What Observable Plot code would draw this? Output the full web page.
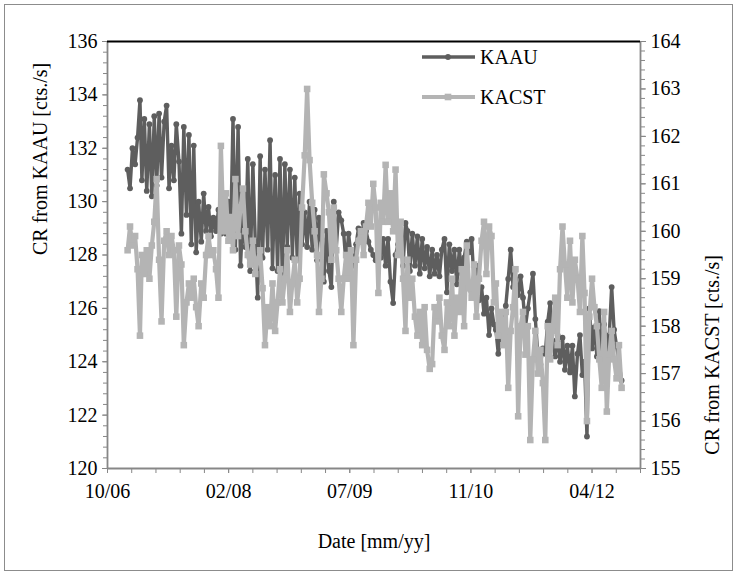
<!DOCTYPE html>
<html><head><meta charset="utf-8">
<script src="https://cdn.jsdelivr.net/npm/d3@7"></script>
<script src="https://cdn.jsdelivr.net/npm/@observablehq/plot@0.6"></script>
<style>
body{margin:0;background:#fff;}
#wrap{position:relative;width:738px;height:575px;overflow:hidden;}
#frame{position:absolute;left:4px;top:4px;width:729px;height:567px;border:1px solid #8c8c8c;box-sizing:border-box;pointer-events:none;}
#chart{position:absolute;left:0;top:0;}
#legend{position:absolute;left:0;top:0;}
#legend text{font-family:"Liberation Serif",serif;font-size:20px;fill:#000;}
</style></head><body><div id="wrap"><div id="chart"></div><svg id="legend" width="738" height="140"></svg><div id="frame"></div></div>
<script>
const dates = [
"2007-01-01","2007-01-11","2007-01-21","2007-02-01","2007-02-11","2007-02-21","2007-03-01","2007-03-11","2007-03-21","2007-04-01","2007-04-11","2007-04-21",
"2007-05-01","2007-05-11","2007-05-21","2007-06-01","2007-06-11","2007-06-21","2007-07-01","2007-07-11","2007-07-21","2007-08-01","2007-08-11","2007-08-21",
"2007-09-01","2007-09-11","2007-09-21","2007-10-01","2007-10-11","2007-10-21","2007-11-01","2007-11-11","2007-11-21","2007-12-01","2007-12-11","2007-12-21",
"2008-01-01","2008-01-11","2008-01-21","2008-02-01","2008-02-11","2008-02-21","2008-03-01","2008-03-11","2008-03-21","2008-04-01","2008-04-11","2008-04-21",
"2008-05-01","2008-05-11","2008-05-21","2008-06-01","2008-06-11","2008-06-21","2008-07-01","2008-07-11","2008-07-21","2008-08-01","2008-08-11","2008-08-21",
"2008-09-01","2008-09-11","2008-09-21","2008-10-01","2008-10-11","2008-10-21","2008-11-01","2008-11-11","2008-11-21","2008-12-01","2008-12-11","2008-12-21",
"2009-01-01","2009-01-11","2009-01-21","2009-02-01","2009-02-11","2009-02-21","2009-03-01","2009-03-11","2009-03-21","2009-04-01","2009-04-11","2009-04-21",
"2009-05-01","2009-05-11","2009-05-21","2009-06-01","2009-06-11","2009-06-21","2009-07-01","2009-07-11","2009-07-21","2009-08-01","2009-08-11","2009-08-21",
"2009-09-01","2009-09-11","2009-09-21","2009-10-01","2009-10-11","2009-10-21","2009-11-01","2009-11-11","2009-11-21","2009-12-01","2009-12-11","2009-12-21",
"2010-01-01","2010-01-11","2010-01-21","2010-02-01","2010-02-11","2010-02-21","2010-03-01","2010-03-11","2010-03-21","2010-04-01","2010-04-11","2010-04-21",
"2010-05-01","2010-05-11","2010-05-21","2010-06-01","2010-06-11","2010-06-21","2010-07-01","2010-07-11","2010-07-21","2010-08-01","2010-08-11","2010-08-21",
"2010-09-01","2010-09-11","2010-09-21","2010-10-01","2010-10-11","2010-10-21","2010-11-01","2010-11-11","2010-11-21","2010-12-01","2010-12-11","2010-12-21",
"2011-01-01","2011-01-11","2011-01-21","2011-02-01","2011-02-11","2011-02-21","2011-03-01","2011-03-11","2011-03-21","2011-04-01","2011-04-11","2011-04-21",
"2011-05-01","2011-05-11","2011-05-21","2011-06-01","2011-06-11","2011-06-21","2011-07-01","2011-07-11","2011-07-21","2011-08-01","2011-08-11","2011-08-21",
"2011-09-01","2011-09-11","2011-09-21","2011-10-01","2011-10-11","2011-10-21","2011-11-01","2011-11-11","2011-11-21","2011-12-01","2011-12-11","2011-12-21",
"2012-01-01","2012-01-11","2012-01-21","2012-02-01","2012-02-11","2012-02-21","2012-03-01","2012-03-11","2012-03-21","2012-04-01","2012-04-11","2012-04-21",
"2012-05-01","2012-05-11","2012-05-21","2012-06-01","2012-06-11","2012-06-21","2012-07-01","2012-07-11","2012-07-21","2012-08-01"];

const kaau = [
131.2,130.5,132.0, 131.4,132.4,133.8, 130.8,133.1,130.4, 132.9,130.2,133.2,
130.6,133.3,130.9, 133.0,133.6,130.5, 132.1,130.8,132.9, 131.5,128.8,132.8,
129.5,132.5,128.4, 132.1,128.1,130.0, 128.5,130.3,128.9, 129.8,128.7,129.4,
128.9,129.7,128.8, 129.5,128.8,130.0, 128.6,133.1,128.2, 132.8,127.6,129.5,
128.3,131.6,127.4, 131.4,128.5,126.4, 131.7,127.9,131.2, 128.2,132.3,127.5,
131.0,127.4,131.6, 126.9,131.4,128.3, 131.2,127.9,130.9, 127.8,130.3,128.4,
129.6,128.3,130.0, 128.2,129.7,127.8, 129.4,128.6,127.0, 128.9,127.4,126.8,
130.0,128.2,129.6, 129.3,128.8,127.6, 128.8,128.0,127.6, 128.4,129.0,128.5,
129.2,128.9,128.5, 128.2,128.0,127.8, 128.6,127.9,128.6, 127.6,128.6,127.0,
126.2,128.0,128.4, 128.7,127.6,129.2, 128.9,127.4,128.8, 127.6,128.7,127.3,
128.6,127.5,128.3, 127.2,128.2,127.3, 128.0,127.2,128.2, 128.6,126.6,128.4,
127.4,128.2,126.9, 128.2,127.3,127.9, 128.5,128.1,128.6, 127.0,127.6,126.3,
126.8,125.8,126.4, 125.0,126.0,125.4, 125.2,124.3,124.9, 125.0,126.1,127.1,
128.2,126.8,127.1, 126.5,127.2,126.4, 125.3,126.0,126.6, 127.3,125.6,124.3,
123.9,124.5,124.3, 125.5,126.2,124.8, 124.2,125.0,124.0, 124.9,123.7,124.6,
123.6,124.6,122.7, 124.3,125.0,123.5, 124.0,121.2,126.0, 124.5,125.3,124.2,
125.9,123.8,125.4, 124.4,125.0,126.8, 125.2,124.6,124.0, 123.3];

const kacst = [
159.6,160.1,159.7, 159.9,159.2,157.8, 159.5,159.1,159.6, 159.0,159.7,160.2,
161.1,159.4,158.1, 159.8,160.0,159.5, 159.9,159.6,158.2, 159.7,159.3,157.6,
158.5,158.9,158.6, 159.0,158.4,158.0, 158.9,158.6,159.5, 159.9,159.5,159.6,
159.2,158.6,161.8, 160.0,160.8,159.8, 160.3,159.6,161.1, 159.9,160.5,160.9,
160.0,159.5,159.3, 159.8,159.1,159.4, 159.6,158.8,157.6, 158.4,158.0,158.9,
157.9,158.5,159.2, 158.5,159.0,159.6, 158.3,158.9,159.4, 158.5,159.0,160.5,
161.6,163.0,161.5, 160.6,160.0,159.5, 158.3,159.0,161.2, 160.8,160.4,159.4,
160.5,159.6,159.0, 158.3,159.0,159.5, 159.0,159.6,157.6, 159.4,159.8,160.0,
159.5,160.1,160.6, 160.1,161.0,160.5, 158.7,160.6,160.2, 161.4,160.2,160.8,
160.0,161.3,159.5, 160.2,159.0,157.9, 159.4,158.6,159.0, 158.2,157.8,158.3,
157.6,158.4,157.5, 157.1,157.2,158.4, 158.1,158.6,157.8, 157.5,158.5,158.0,
159.0,157.8,158.6, 158.3,159.2,158.0, 159.7,158.8,158.6, 159.3,158.2,159.0,
159.8,160.2,159.1, 160.1,159.9,158.5, 158.9,157.8,158.3, 157.6,158.3,156.7,
157.9,158.4,159.2, 156.1,158.0,158.3, 157.4,158.0,155.6, 157.3,157.9,157.0,
157.5,156.8,155.6, 158.0,157.3,157.9, 158.6,157.6,159.2, 160.1,159.3,158.6,
159.8,158.5,159.4, 159.0,158.3,159.9, 158.7,156.0,158.2, 159.0,158.4,158.0,
157.3,156.7,158.3, 156.2,157.4,157.9, 157.3,156.9,157.6, 156.7];

const seriesNames = ["KAAU", "KACST"];
const leftTicks = [120,122,124,126,128,130,132,134,136];
const rightTicks = [155,156,157,158,159,160,161,162,163,164];
const xTickDates = ["2006-10-10","2008-02-22","2009-07-06","2010-11-18","2012-04-01"];
const xTickLabels = ["10/06","02/08","07/09","11/10","04/12"];
const xDomain = ["2006-10-10","2012-10-18"];
const leftTitle = "CR from KAAU [cts./s]";
const rightTitle = "CR from KACST [cts./s]";
const xTitle = "Date [mm/yy]";

const parse = d3.utcParse("%Y-%m-%d");
const toLeft = w => 120 + (w - 155) * 16 / 9;
const toRight = v => 155 + (v - 120) * 9 / 16;
const rowsA = dates.map((d, i) => ({date: parse(d), v: kaau[i]}));
const rowsB = dates.map((d, i) => ({date: parse(d), v: toLeft(kacst[i])}));
const start = parse(xDomain[0]), end = parse(xDomain[1]);
const xMajor = xTickDates.map(parse);
const xMinor = d3.range(0, 2201, 100).map(k => d3.utcDay.offset(start, k));
const leftMinor = d3.range(0, 41).map(k => 120 + k * 0.4);
const rightMinor = d3.range(0, 46).map(k => toLeft(155 + k * 0.2));
const labelFor = new Map(xMajor.map((d, i) => [+d, xTickLabels[i]]));

const dark = "#5e5e5e", light = "#b4b4b4", axisGray = "#878787";
const font = "Liberation Serif, Times New Roman, serif";

const chart = Plot.plot({
  width: 738, height: 575,
  marginLeft: 107, marginRight: 98, marginTop: 41, marginBottom: 107,
  style: {fontFamily: font, fontSize: "20px", color: "#000", background: "transparent"},
  x: {type: "utc", domain: [start, end]},
  y: {domain: [120, 136]},
  marks: [
    Plot.axisY({ticks: leftMinor, tickSize: 4, tickFormat: () => "", stroke: axisGray, label: null}),
    Plot.axisY({ticks: leftTicks, tickSize: 5, tickPadding: 5, stroke: axisGray, fill: "#000", label: null, tickFormat: d => String(d)}),
    Plot.axisY({anchor: "right", ticks: rightMinor, tickSize: 4, tickFormat: () => "", stroke: axisGray, label: null}),
    Plot.axisY({anchor: "right", ticks: rightTicks.map(toLeft), tickSize: 5, tickPadding: 5, stroke: axisGray, fill: "#000", label: null, tickFormat: d => String(Math.round(toRight(d)))}),
    Plot.axisX({ticks: xMinor, tickSize: 5, tickFormat: () => "", stroke: axisGray, label: null}),
    Plot.axisX({ticks: xMajor, tickSize: 5, tickPadding: 10, stroke: axisGray, fill: "#000", label: null, tickFormat: d => labelFor.get(+d)}),
    Plot.ruleX([start, end], {stroke: axisGray, strokeWidth: 1.8}),
    Plot.ruleY([120], {stroke: axisGray, strokeWidth: 1.8}),
    Plot.ruleY([136], {stroke: "#000", strokeWidth: 1.8}),
    Plot.line(rowsA, {x: "date", y: "v", stroke: dark, strokeWidth: 3.4, strokeLinejoin: "round"}),
    Plot.dot(rowsA, {x: "date", y: "v", r: 2.9, fill: dark, stroke: null}),
    Plot.line(rowsB, {x: "date", y: "v", stroke: light, strokeWidth: 4.2, strokeLinejoin: "round"}),
    Plot.dot(rowsB, {x: "date", y: "v", symbol: "square", r: 3.7, fill: light, stroke: null}),
    Plot.text([leftTitle], {text: d => d, frameAnchor: "left", rotate: -90, dx: -67, fontSize: 20}),
    Plot.text([rightTitle], {text: d => d, frameAnchor: "right", rotate: -90, dx: 72, fontSize: 20}),
    Plot.text([xTitle], {text: d => d, frameAnchor: "bottom", dy: 79, fontSize: 20})
  ]
});
document.getElementById("chart").appendChild(chart);

// legend
const lg = d3.select("#legend");
const items = [
  {name: seriesNames[0], color: dark, sym: "circle", y: 57, w: 3.4},
  {name: seriesNames[1], color: light, sym: "square", y: 97, w: 4.2}
];
items.forEach(it => {
  lg.append("line").attr("x1", 422).attr("x2", 475).attr("y1", it.y).attr("y2", it.y)
    .attr("stroke", it.color).attr("stroke-width", it.w);
  if (it.sym === "circle") lg.append("circle").attr("cx", 448).attr("cy", it.y).attr("r", 2.9).attr("fill", it.color);
  else lg.append("rect").attr("x", 444.7).attr("y", it.y - 3.3).attr("width", 6.6).attr("height", 6.6).attr("fill", it.color);
  lg.append("text").attr("x", 480).attr("y", it.y).attr("dy", "0.35em")
    .attr("font-family", "Liberation Serif, serif").attr("font-size", 20).text(it.name);
});
</script></body></html>
